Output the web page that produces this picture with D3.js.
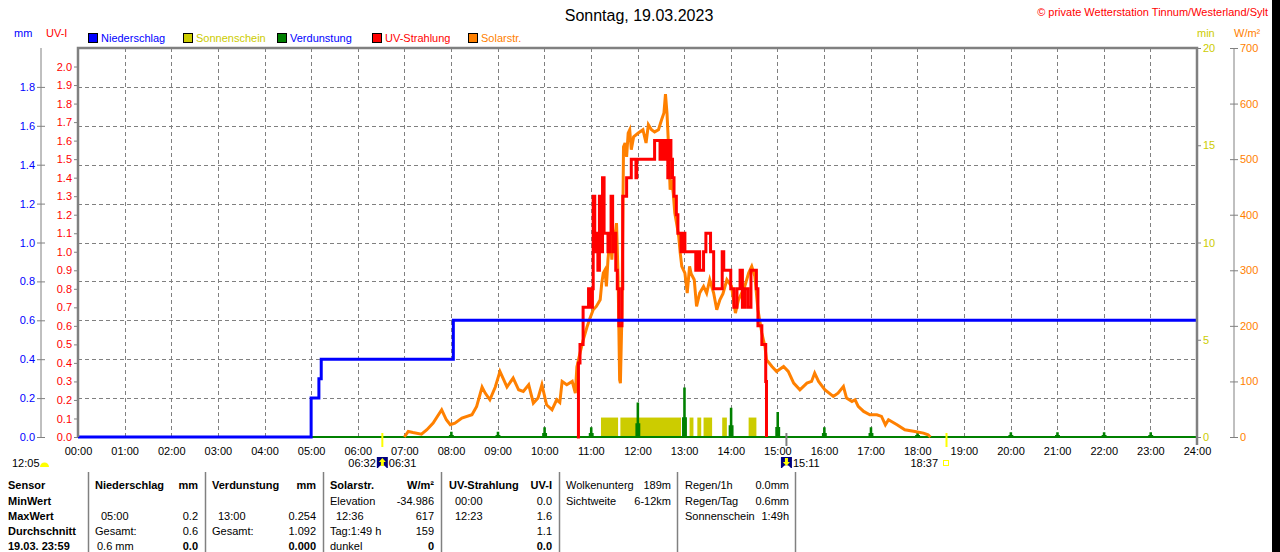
<html>
<head>
<meta charset="utf-8">
<title>Sonntag, 19.03.2023</title>
<style type="text/css">
    body { margin: 0; background: #fff; }
    svg text { font-family: "Liberation Sans", Arial, sans-serif; font-size: 11px; }
</style>
</head>
<body>
<script src="https://d3js.org/d3.v7.min.js"></script>
<script>

    // ---- data ----
    // Niederschlag, cumulative mm (step line)
    var precipTimes = ["00:00", "05:00", "05:10", "05:13", "08:03", "24:00"];
    var precipMm = [0, 0.2, 0.3, 0.4, 0.6, 0.6];

    // Verdunstung per hour, mm
    var evapHours = [8, 9, 10, 11, 12, 13, 14, 15, 16, 17, 18, 20, 21, 22, 23];
    var evapMm = [0.027, 0.027, 0.05, 0.05, 0.177, 0.254, 0.15, 0.128, 0.05, 0.05, 0.027, 0.025, 0.025, 0.025, 0.025];

    // Sonnenschein, sunny intervals (1 min per minute)
    var sunStart = ["11:13", "11:38", "13:07", "13:17", "13:25", "13:49", "14:23"];
    var sunEnd = ["11:35", "12:56", "13:12", "13:22", "13:36", "13:55", "14:33"];

    // Solarstrahlung W/m2
    var solarTimes = ["07:00", "07:05", "07:11", "07:22", "07:29", "07:37", "07:48", "07:54", "07:59", "08:05",
        "08:14", "08:27", "08:33", "08:40", "08:44", "08:50", "08:57", "09:03", "09:12", "09:20",
        "09:27", "09:33", "09:40", "09:46", "09:52", "09:57", "10:03", "10:10", "10:16", "10:20",
        "10:23", "10:29", "10:36", "10:40", "10:42", "10:46", "10:50", "10:55", "10:59", "11:03",
        "11:07", "11:12", "11:14", "11:16", "11:18", "11:20", "11:22", "11:25", "11:27", "11:29",
        "11:31", "11:33", "11:35", "11:37", "11:38", "11:40", "11:42", "11:44", "11:46", "11:48",
        "11:50", "11:52", "11:55", "12:01", "12:07", "12:11", "12:14", "12:18", "12:22", "12:27",
        "12:31", "12:34", "12:36", "12:38", "12:40", "12:42", "12:44", "12:46", "12:48", "12:51",
        "12:53", "12:55", "12:57", "13:01", "13:04", "13:07", "13:09", "13:13", "13:16", "13:20",
        "13:25", "13:29", "13:33", "13:38", "13:42", "13:46", "13:50", "13:55", "14:01", "14:06",
        "14:10", "14:14", "14:18", "14:23", "14:27", "14:31", "14:35", "14:40", "14:44", "14:46",
        "14:53", "14:59", "15:08", "15:14", "15:21", "15:29", "15:38", "15:44", "15:48", "15:53",
        "16:01", "16:12", "16:18", "16:25", "16:29", "16:36", "16:40", "16:44", "16:51", "16:59",
        "17:08", "17:14", "17:19", "17:23", "17:34", "17:44", "17:57", "18:08", "18:14", "18:17"];
    var solarW = [0, 10, 8, 5, 13, 25, 49, 31, 22, 25,
        34, 40, 55, 90, 79, 67, 90, 118, 90, 106,
        85, 82, 94, 61, 70, 94, 58, 49, 67, 62,
        100, 94, 100, 79, 126, 151, 174, 198, 214, 229,
        235, 247, 277, 295, 300, 271, 319, 367, 319, 373,
        360, 385, 289, 103, 97, 223, 522, 529, 504, 547,
        553, 517, 540, 547, 553, 529, 562, 553, 549, 553,
        571, 583, 617, 582, 522, 445, 463, 439, 403, 379,
        361, 331, 307, 295, 259, 307, 294, 283, 235, 259,
        271, 259, 283, 259, 229, 247, 258, 283, 271, 223,
        247, 259, 271, 295, 307, 289, 229, 187, 163, 139,
        127, 118, 127, 118, 97, 85, 97, 100, 115, 100,
        85, 73, 79, 91, 70, 64, 67, 55, 46, 40,
        40, 37, 22, 31, 22, 13, 10, 7, 4, 0];

    // UV-Strahlung UV-I (step line)
    var uvTimes = ["10:42", "10:44", "10:46", "10:50", "10:57", "11:00", "11:02", "11:03", "11:05", "11:06",
        "11:09", "11:11", "11:13", "11:15", "11:17", "11:22", "11:24", "11:26", "11:28", "11:30",
        "11:32", "11:34", "11:36", "11:40", "11:41", "11:46", "11:52", "11:58", "11:59", "12:22",
        "12:29", "12:31", "12:34", "12:36", "12:38", "12:39", "12:41", "12:43", "12:45", "12:47",
        "12:50", "12:52", "12:56", "12:59", "13:01", "13:15", "13:17", "13:20", "13:25", "13:28",
        "13:34", "13:38", "13:49", "13:51", "14:00", "14:04", "14:08", "14:12", "14:15", "14:18",
        "14:22", "14:26", "14:33", "14:35", "14:40", "14:45", "14:46"];
    var uvIndex = [0.0, 0.4, 0.5, 0.7, 0.8, 0.7, 0.8, 1.3, 1.0, 1.1,
        0.9, 1.3, 1.0, 1.4, 1.1, 1.0, 1.1, 1.3, 1.0, 1.1,
        0.9, 0.8, 0.6, 0.8, 1.3, 1.4, 1.5, 1.4, 1.5, 1.6,
        1.5, 1.6, 1.5, 1.6, 1.5, 1.4, 1.6, 1.5, 1.4, 1.3,
        1.2, 1.1, 1.0, 1.1, 1.0, 0.9, 1.0, 0.9, 1.0, 1.1,
        1.0, 0.8, 1.0, 0.9, 0.8, 0.7, 0.8, 0.9, 0.7, 0.8,
        0.7, 0.9, 0.8, 0.6, 0.5, 0.3, 0.0];

    // tick labels
    var hourTicks = d3.range(0, 25);
    var mmTicks = [0, 0.2, 0.4, 0.6, 0.8, 1.0, 1.2, 1.4, 1.6, 1.8];
    var uvTicks = d3.range(0, 21).map(function (i) { return i / 10; });
    var minTicks = [0, 5, 10, 15, 20];
    var wTicks = [0, 100, 200, 300, 400, 500, 600, 700];

    var legendNames = ["Niederschlag", "Sonnenschein", "Verdunstung", "UV-Strahlung", "Solarstr."];
    var legendColors = ["#0000ff", "#cccc00", "#008000", "#ff0000", "#ff8000"];
    var legendTextColors = ["#0000ff", "#cccc00", "#0000ff", "#ff0000", "#ff8000"];

    // sun times under the axis
    var sunriseTime = "06:31", sunriseTime2 = "06:32", sunsetTime = "18:37", shadowTime = "15:11", noonTime = "12:05";

    // table below the chart
    var tableSensor = ["Sensor", "MinWert", "MaxWert", "Durchschnitt", "19.03. 23:59"];
    var tableNieder = [["Niederschlag", "mm"], ["", ""], ["05:00", "0.2"], ["Gesamt:", "0.6"], ["0.6 mm", "0.0"]];
    var tableVerd = [["Verdunstung", "mm"], ["", ""], ["13:00", "0.254"], ["Gesamt:", "1.092"], ["", "0.000"]];
    var tableSolar = [["Solarstr.", "W/m²"], ["Elevation", "-34.986"], ["12:36", "617"], ["Tag:1:49 h", "159"], ["dunkel", "0"]];
    var tableUv = [["UV-Strahlung", "UV-I"], ["00:00", "0.0"], ["12:23", "1.6"], ["", "1.1"], ["", "0.0"]];
    var tableWolken = [["Wolkenunterg", "189m"], ["Sichtweite", "6-12km"]];
    var tableRegen = [["Regen/1h", "0.0mm"], ["Regen/Tag", "0.6mm"], ["Sonnenschein", "1:49h"]];

    // ---- layout ----
    var width = 1280, height = 552;
    var plot = {left: 78, right: 1197, top: 48, bottom: 437};
    var gridColor = "#808080";

    function toH(s) { var p = s.split(":"); return +p[0] + (+p[1]) / 60; }
    function pad(n) { return (n < 10 ? "0" : "") + n; }

    var x = d3.scaleLinear().domain([0, 24]).range([plot.left, plot.right]);
    var yMm = d3.scaleLinear().domain([0, 2]).range([plot.bottom, plot.top]);
    var yUv = d3.scaleLinear().domain([0, 2.1]).range([plot.bottom, plot.top]);
    var yMin = d3.scaleLinear().domain([0, 20]).range([plot.bottom, plot.top]);
    var yW = d3.scaleLinear().domain([0, 700]).range([plot.bottom, plot.top]);

    var svg = d3.select("body").append("svg")
        .attr("width", width)
        .attr("height", height);

    svg.append("rect").attr("width", width).attr("height", height).attr("fill", "#fff");

    // title + copyright
    svg.append("text")
        .attr("x", 639).attr("y", 21)
        .attr("text-anchor", "middle")
        .style("font-size", "16px")
        .text("Sonntag, 19.03.2023");
    svg.append("text")
        .attr("x", 1268).attr("y", 16)
        .attr("text-anchor", "end")
        .attr("fill", "#ff0000")
        .text("© private Wetterstation Tinnum/Westerland/Sylt");

    // axis unit labels
    svg.append("text").attr("x", 14).attr("y", 37).attr("fill", "#0000ff").text("mm");
    svg.append("text").attr("x", 46).attr("y", 37).attr("fill", "#ff0000").text("UV-I");
    svg.append("text").attr("x", 1197).attr("y", 37).attr("fill", "#cccc00").text("min");
    svg.append("text").attr("x", 1234).attr("y", 37).attr("fill", "#ff8000").text("W/m²");

    // legend
    var legendX = [88, 183, 277, 372, 468];
    var legend = svg.selectAll(".legend")
        .data(legendNames)
        .enter().append("g")
        .attr("class", "legend")
        .attr("transform", function (d, i) { return "translate(" + legendX[i] + ",33)"; });
    legend.append("rect")
        .attr("x", 0.5).attr("y", 0.5).attr("width", 9).attr("height", 9)
        .attr("fill", function (d, i) { return legendColors[i]; })
        .attr("stroke", "#000");
    legend.append("text")
        .attr("x", 13).attr("y", 9)
        .attr("fill", function (d, i) { return legendTextColors[i]; })
        .text(function (d) { return d; });

    // grid
    var grid = svg.append("g").attr("stroke", gridColor).attr("stroke-dasharray", "4,3");
    grid.selectAll(".hg")
        .data(mmTicks.filter(function (d) { return d > 0; }))
        .enter().append("line")
        .attr("x1", plot.left).attr("x2", plot.right)
        .attr("y1", function (d) { return Math.round(yMm(d)) + 0.5; })
        .attr("y2", function (d) { return Math.round(yMm(d)) + 0.5; });
    grid.selectAll(".vg")
        .data(hourTicks.filter(function (d) { return d > 0 && d < 24; }))
        .enter().append("line")
        .attr("y1", plot.top).attr("y2", plot.bottom)
        .attr("x1", function (d) { return Math.round(x(d)) + 0.5; })
        .attr("x2", function (d) { return Math.round(x(d)) + 0.5; });

    // sunshine bars
    svg.selectAll(".sun")
        .data(sunStart)
        .enter().append("rect")
        .attr("fill", "#cccc00")
        .attr("x", function (d) { return x(toH(d)); })
        .attr("width", function (d, i) { return x(toH(sunEnd[i])) - x(toH(d)); })
        .attr("y", yMin(1))
        .attr("height", yMin(0) - yMin(1));

    // evaporation spikes
    var evapArea = d3.area()
        .curve(d3.curveStepAfter)
        .x(function (d) { return x(d[0]); })
        .y0(yMm(0))
        .y1(function (d) { return yMm(d[1]); });
    svg.selectAll(".evap")
        .data(evapHours)
        .enter().append("path")
        .attr("fill", "#008000")
        .attr("d", function (h, i) {
            var v = evapMm[i];
            return evapArea([[h - 0.045, v * 0.4], [h - 0.02, v], [h + 0.035, v * 0.4], [h + 0.06, 0]]);
        });
    svg.append("line")
        .attr("x1", plot.left).attr("x2", plot.right)
        .attr("y1", yMm(0)).attr("y2", yMm(0))
        .attr("stroke", "#008000").attr("stroke-width", 2);

    // solar radiation
    var solarLine = d3.line()
        .x(function (d, i) { return x(toH(solarTimes[i])); })
        .y(function (d) { return yW(d); });
    svg.append("path")
        .datum(solarW)
        .attr("fill", "none")
        .attr("stroke", "#ff8000")
        .attr("stroke-width", 3)
        .attr("d", solarLine);

    // UV index
    var uvLine = d3.line()
        .curve(d3.curveStepAfter)
        .x(function (d, i) { return x(toH(uvTimes[i])); })
        .y(function (d) { return yUv(d); });
    svg.append("path")
        .datum(uvIndex)
        .attr("fill", "none")
        .attr("stroke", "#ff0000")
        .attr("stroke-width", 3)
        .attr("d", uvLine);

    // precipitation
    var precipLine = d3.line()
        .curve(d3.curveStepAfter)
        .x(function (d, i) { return x(toH(precipTimes[i])); })
        .y(function (d) { return yMm(d); });
    svg.append("path")
        .datum(precipMm)
        .attr("fill", "none")
        .attr("stroke", "#0000ff")
        .attr("stroke-width", 3)
        .attr("d", precipLine);

    // frame
    svg.append("path")
        .attr("d", "M" + plot.left + "," + plot.bottom + "V" + plot.top + "H" + plot.right + "V" + (plot.bottom + 8))
        .attr("fill", "none")
        .attr("stroke", gridColor)
        .attr("stroke-width", 2.5);

    function styleAxis(g, color) {
        g.select(".domain").attr("stroke", gridColor);
        g.selectAll(".tick line").attr("stroke", gridColor);
        g.selectAll("text")
            .attr("fill", color)
            .style("font-family", "Liberation Sans, Arial, sans-serif")
            .style("font-size", "11px");
    }

    // left axes
    var mmAxis = svg.append("g")
        .attr("transform", "translate(41,0)")
        .call(d3.axisLeft(yMm).tickValues(mmTicks).tickFormat(d3.format(".1f")).tickSize(4).tickSizeOuter(0).tickPadding(2));
    mmAxis.select(".domain").attr("d", "M0," + plot.top + "V" + plot.bottom);
    mmAxis.selectAll(".tick line").attr("x1", 4);
    styleAxis(mmAxis, "#0000ff");

    var uvAxis = svg.append("g")
        .attr("transform", "translate(" + plot.left + ",0)")
        .call(d3.axisLeft(yUv).tickValues(uvTicks).tickFormat(d3.format(".1f")).tickSize(4).tickSizeOuter(0).tickPadding(2));
    uvAxis.select(".domain").remove();
    styleAxis(uvAxis, "#ff0000");

    // right axes
    var minAxis = svg.append("g")
        .attr("transform", "translate(" + plot.right + ",0)")
        .call(d3.axisRight(yMin).tickValues(minTicks).tickSize(4).tickSizeOuter(0).tickPadding(2));
    minAxis.select(".domain").remove();
    styleAxis(minAxis, "#cccc00");

    var wAxis = svg.append("g")
        .attr("transform", "translate(1234,0)")
        .call(d3.axisRight(yW).tickValues(wTicks).tickSize(4).tickSizeOuter(0).tickPadding(2));
    wAxis.select(".domain").attr("d", "M0," + plot.top + "V" + plot.bottom);
    wAxis.selectAll(".tick line").attr("x1", -4);
    styleAxis(wAxis, "#ff8000");

    // time axis
    var xAxis = svg.append("g")
        .attr("transform", "translate(0," + plot.bottom + ")")
        .call(d3.axisBottom(x).tickValues(hourTicks).tickFormat(function (d) { return pad(d) + ":00"; }).tickSize(0).tickPadding(10));
    xAxis.select(".domain").remove();
    styleAxis(xAxis, "#000");

    // sunrise / sunset marks
    svg.selectAll(".sunmark")
        .data([sunriseTime, sunsetTime])
        .enter().append("line")
        .attr("x1", function (d) { return x(toH(d)) + 0.5; })
        .attr("x2", function (d) { return x(toH(d)) + 0.5; })
        .attr("y1", 433).attr("y2", 447)
        .attr("stroke", "#ffff00").attr("stroke-width", 2);
    svg.append("line")
        .attr("x1", x(toH(shadowTime)) + 0.5).attr("x2", x(toH(shadowTime)) + 0.5)
        .attr("y1", 433).attr("y2", 446)
        .attr("stroke", gridColor).attr("stroke-width", 2);

    // icons + times under the axis
    function riseIcon(cx, up) {
        var g = svg.append("g").attr("transform", "translate(" + (cx - 5) + ",457)");
        g.append("rect").attr("width", 11).attr("height", 11).attr("fill", "#000080");
        g.append("path").attr("d", "M1,11 Q5.5,5 10,11 Z").attr("fill", "#ffffff");
        g.append("path")
            .attr("d", up ? "M5.5,1 L9,5 L7,5 L7,9 L4,9 L4,5 L2,5 Z" : "M4,1 L7,1 L7,5 L9,5 L5.5,9 L2,5 L4,5 Z")
            .attr("fill", "#ffff00");
    }
    var xr = x(toH(sunriseTime));
    riseIcon(xr, true);
    svg.append("text").attr("x", xr - 6).attr("y", 467).attr("text-anchor", "end").text(sunriseTime2);
    svg.append("text").attr("x", xr + 7).attr("y", 467).text(sunriseTime);

    var xs = x(toH(shadowTime));
    riseIcon(xs, false);
    svg.append("text").attr("x", xs + 7).attr("y", 467).text(shadowTime);

    var xe = x(toH(sunsetTime));
    svg.append("text").attr("x", xe - 8).attr("y", 467).attr("text-anchor", "end").text(sunsetTime);
    svg.append("rect").attr("x", xe - 2.5).attr("y", 460.5).attr("width", 5).attr("height", 5)
        .attr("fill", "none").attr("stroke", "#ffff00");

    svg.append("text").attr("x", 12).attr("y", 467).text(noonTime);
    svg.append("path").attr("d", "M40,467 A4.5,4.5 0 0 1 49,467 Z").attr("fill", "#ffff00");

    // table
    var sepX = [88, 205, 323, 441, 559, 677, 795];
    svg.selectAll(".sep")
        .data(sepX)
        .enter().append("line")
        .attr("x1", function (d) { return d + 0.5; }).attr("x2", function (d) { return d + 0.5; })
        .attr("y1", 472).attr("y2", 552)
        .attr("stroke", gridColor).attr("stroke-width", 1.5);

    var rowY = [489, 505, 520, 535, 550];
    svg.selectAll(".sens")
        .data(tableSensor)
        .enter().append("text")
        .attr("x", 8).attr("y", function (d, i) { return rowY[i]; })
        .style("font-weight", "bold")
        .text(function (d) { return d; });

    function tableCol(rows, left, right, boldLast) {
        rows.forEach(function (r, i) {
            var indent = /^\d\d:\d\d$/.test(r[0]) ? 6 : (r[0] === "0.6 mm" ? 2 : 0);
            svg.append("text")
                .attr("x", left + indent).attr("y", rowY[i])
                .style("font-weight", i === 0 && boldLast ? "bold" : "normal")
                .text(r[0]);
            svg.append("text")
                .attr("x", right).attr("y", rowY[i])
                .attr("text-anchor", "end")
                .style("font-weight", (i === 0 || i === 4) && boldLast ? "bold" : "normal")
                .text(r[1]);
        });
    }
    tableCol(tableNieder, 95, 198, true);
    tableCol(tableVerd, 212, 316, true);
    tableCol(tableSolar, 330, 434, true);
    tableCol(tableUv, 449, 552, true);
    tableCol(tableWolken, 566, 671, false);
    tableCol(tableRegen, 685, 789, false);

    // dark right edge
    svg.append("rect").attr("x", 1272).attr("y", 0).attr("width", 8).attr("height", height).attr("fill", "#000");

</script>
</body>
</html>
